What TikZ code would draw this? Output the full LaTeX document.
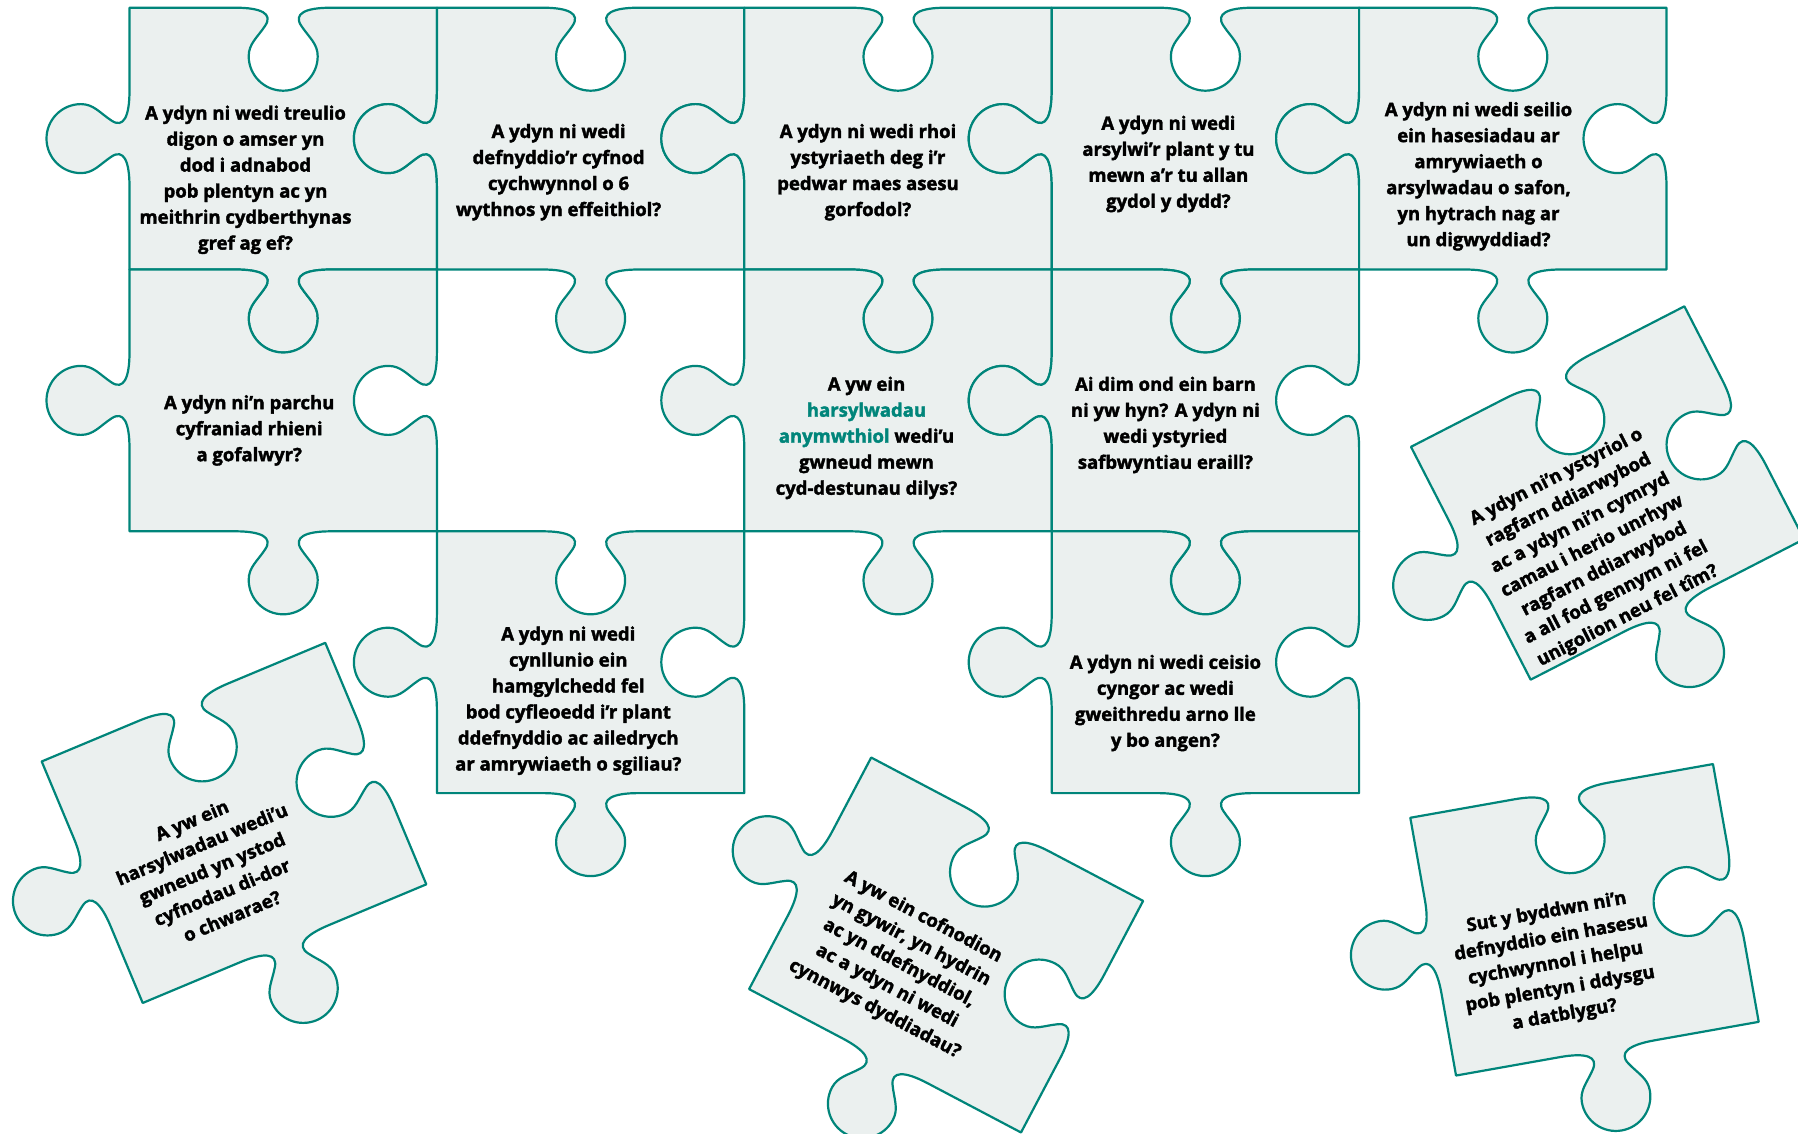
\documentclass[tikz,border=0pt]{standalone}
\usepackage{fontspec}
\setmainfont{Open Sans}[BoldFeatures={FakeBold=2}]
\definecolor{pfill}{HTML}{EBF0EF}
\definecolor{pline}{HTML}{00857A}
\def\pw{153.7}
\def\ph{130.9}
\newcommand\puzzlepath{%
(-\pw,-\ph) -- (-48,-\ph)
.. controls (-22,-\ph) and (-10,-\ph+6) .. (-18,-\ph+18)
.. controls (-26,-\ph+30) and (-34.5,-\ph+36) .. (-34.5,-\ph+48.5)
.. controls (-34.5,-\ph+67.55) and (-19.05,-\ph+83) .. (0,-\ph+83)
.. controls (19.05,-\ph+83) and (34.5,-\ph+67.55) .. (34.5,-\ph+48.5)
.. controls (34.5,-\ph+36) and (26,-\ph+30) .. (18,-\ph+18)
.. controls (10,-\ph+6) and (22,-\ph) .. (48,-\ph)
-- (\pw,-\ph) -- (\pw,-48)
.. controls (\pw,-22) and (\pw-6,-10) .. (\pw-18,-18)
.. controls (\pw-30,-26) and (\pw-36,-34.5) .. (\pw-48.5,-34.5)
.. controls (\pw-67.55,-34.5) and (\pw-83,-19.05) .. (\pw-83,0)
.. controls (\pw-83,19.05) and (\pw-67.55,34.5) .. (\pw-48.5,34.5)
.. controls (\pw-36,34.5) and (\pw-30,26) .. (\pw-18,18)
.. controls (\pw-6,10) and (\pw,22) .. (\pw,48)
-- (\pw,\ph) -- (48,\ph)
.. controls (22,\ph) and (10,\ph+6) .. (18,\ph+18)
.. controls (26,\ph+30) and (34.5,\ph+36) .. (34.5,\ph+48.5)
.. controls (34.5,\ph+67.55) and (19.05,\ph+83) .. (0,\ph+83)
.. controls (-19.05,\ph+83) and (-34.5,\ph+67.55) .. (-34.5,\ph+48.5)
.. controls (-34.5,\ph+36) and (-26,\ph+30) .. (-18,\ph+18)
.. controls (-10,\ph+6) and (-22,\ph) .. (-48,\ph)
-- (-\pw,\ph) -- (-\pw,48)
.. controls (-\pw,22) and (-\pw-6,10) .. (-\pw-18,18)
.. controls (-\pw-30,26) and (-\pw-36,34.5) .. (-\pw-48.5,34.5)
.. controls (-\pw-67.55,34.5) and (-\pw-83,19.05) .. (-\pw-83,0)
.. controls (-\pw-83,-19.05) and (-\pw-67.55,-34.5) .. (-\pw-48.5,-34.5)
.. controls (-\pw-36,-34.5) and (-\pw-30,-26) .. (-\pw-18,-18)
.. controls (-\pw-6,-10) and (-\pw,-22) .. (-\pw,-48)
-- cycle}
\begin{document}
\begin{tikzpicture}[x=1pt, y=-1pt,
  piece/.style={fill=pfill, draw=pline, line width=2.2pt, line join=round},
  qtext/.style={align=center, inner sep=0pt, text=black,
    font=\bfseries\fontsize{18.5}{26}\selectfont}]
\useasboundingbox (0,0) rectangle (1798,1134);
\fill[white] (0,0) rectangle (1798,1134);
\clip (0,0) rectangle (1798,1134);
% grid pieces
\begin{scope}[shift={(283.2,138.6)}]
  \path[piece] \puzzlepath;
  \node[qtext] (t00) at (-37.7,41.2) {A ydyn ni wedi treulio\\digon o amser yn\\dod i adnabod\\pob plentyn ac yn\\meithrin cydberthynas\\gref ag ef?};
\end{scope}
\begin{scope}[shift={(590.6,138.6)}]
  \path[piece] \puzzlepath;
  \node[qtext] (t01) at (-32,33.6) {A ydyn ni wedi\\defnyddio’r cyfnod\\cychwynnol o 6\\wythnos yn effeithiol?};
\end{scope}
\begin{scope}[shift={(898,138.6)}]
  \path[piece] \puzzlepath;
  \node[qtext] (t02) at (-30,33.6) {A ydyn ni wedi rhoi\\ystyriaeth deg i’r\\pedwar maes asesu\\gorfodol?};
\end{scope}
\begin{scope}[shift={(1205.4,138.6)}]
  \path[piece] \puzzlepath;
  \node[qtext] (t03) at (-37,25.4) {A ydyn ni wedi\\arsylwi’r plant y tu\\mewn a’r tu allan\\gydol y dydd?};
\end{scope}
\begin{scope}[shift={(1512.8,138.6)}]
  \path[piece] \puzzlepath;
  \node[qtext] (t04) at (-34.3,37.7) {A ydyn ni wedi seilio\\ein hasesiadau ar\\amrywiaeth o\\arsylwadau o safon,\\yn hytrach nag ar\\un digwyddiad?};
\end{scope}
\begin{scope}[shift={(283.2,400.4)}]
  \path[piece] \puzzlepath;
  \node[qtext] (t10) at (-34,30) {A ydyn ni’n parchu\\cyfraniad rhieni\\a gofalwyr?};
\end{scope}
\begin{scope}[shift={(898,400.4)}]
  \path[piece] \puzzlepath;
  \node[qtext] (t12) at (-31.5,37.5) {A yw ein\\\textcolor{pline}{harsylwadau}\\\textcolor{pline}{anymwthiol} wedi’u\\gwneud mewn\\cyd-destunau dilys?};
\end{scope}
\begin{scope}[shift={(1205.4,400.4)}]
  \path[piece] \puzzlepath;
  \node[qtext] (t13) at (-40,24.6) {Ai dim ond ein barn\\ni yw hyn? A ydyn ni\\wedi ystyried\\safbwyntiau eraill?};
\end{scope}
\begin{scope}[shift={(590.6,662.2)}]
  \path[piece] \puzzlepath;
  \node[qtext] (t21) at (-22.3,38.5) {A ydyn ni wedi\\cynllunio ein\\hamgylchedd fel\\bod cyfleoedd i’r plant\\ddefnyddio ac ailedrych\\ar amrywiaeth o sgiliau?};
\end{scope}
\begin{scope}[shift={(1205.4,662.2)}]
  \path[piece] \puzzlepath;
  \node[qtext] (t23) at (-40,40.8) {A ydyn ni wedi ceisio\\cyngor ac wedi\\gweithredu arno lle\\y bo angen?};
\end{scope}
% loose pieces
\begin{scope}[shift={(234,822.9)}, rotate=22.7, transform shape]
  \path[piece] \puzzlepath;
  \node[qtext] (tA) at (-37.8,33) {A yw ein\\harsylwadau wedi’u\\gwneud yn ystod\\cyfnodau di-dor\\o chwarae?};
\end{scope}
\begin{scope}[shift={(946.1,945)}, rotate=-27.8, transform shape]
  \path[piece] \puzzlepath;
  \node[qtext] (tB) at (-33.2,38.2) {A yw ein cofnodion\\yn gywir, yn hydrin\\ac yn ddefnyddiol,\\ac a ydyn ni wedi\\cynnwys dyddiadau?};
\end{scope}
\begin{scope}[shift={(1607.5,493)}, rotate=27.2, transform shape]
  \path[piece] \puzzlepath;
  \node[qtext] (tC) at (-38.1,40.8) {A ydyn ni’n ystyriol o\\ragfarn ddiarwybod\\ac a ydyn ni’n cymryd\\camau i herio unrhyw\\ragfarn ddiarwybod\\a all fod gennym ni fel\\unigolion neu fel tîm?};
\end{scope}
\begin{scope}[shift={(1584.5,919.8)}, rotate=10.06, transform shape]
  \path[piece] \puzzlepath;
  \node[qtext] (tD) at (-36.1,38.5) {Sut y byddwn ni’n\\defnyddio ein hasesu\\cychwynnol i helpu\\pob plentyn i ddysgu\\a datblygu?};
\end{scope}
\end{tikzpicture}
\end{document}
